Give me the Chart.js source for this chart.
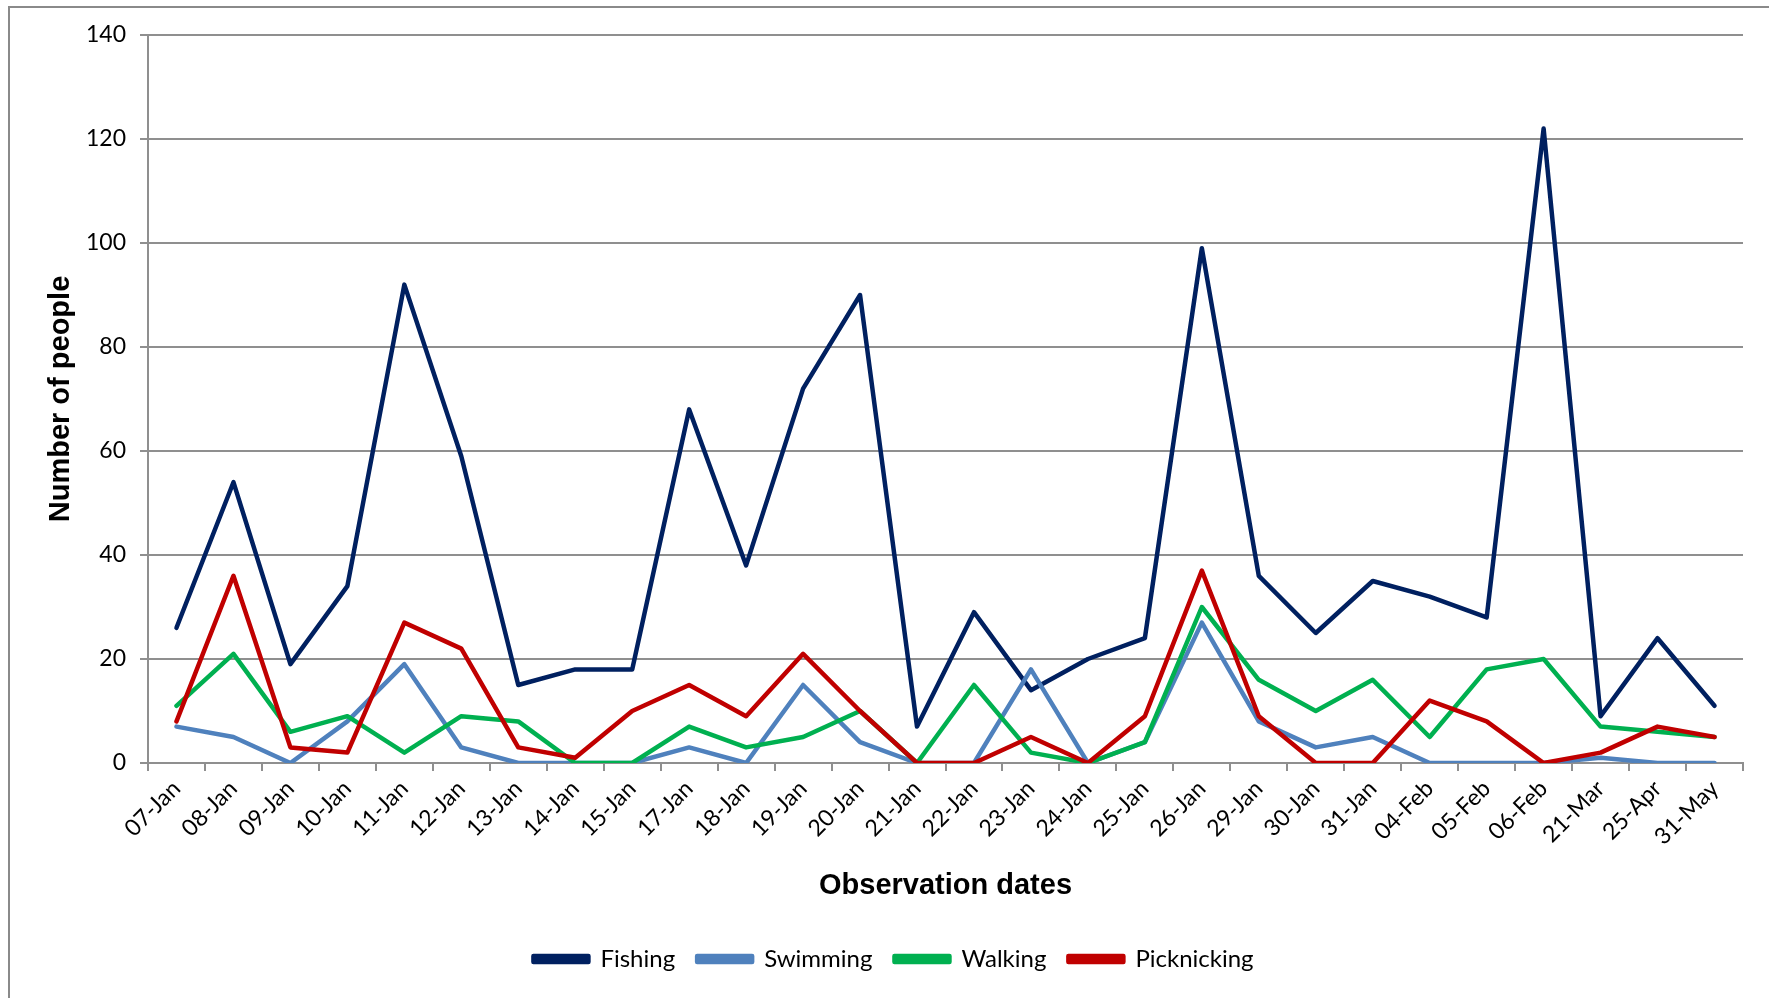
<!DOCTYPE html>
<html>
<head>
<meta charset="utf-8">
<title>Number of people by activity</title>
<script src="https://cdn.jsdelivr.net/npm/chart.js@4.4.1/dist/chart.umd.min.js"></script>
<style>
  html, body { margin: 0; padding: 0; background: #fff; }
  #wrap { position: relative; width: 1769px; height: 998px; }
</style>
</head>
<body>
<div id="wrap"><canvas id="activityChart" width="1769" height="998"></canvas></div>
<script>
const dates = ['07-Jan', '08-Jan', '09-Jan', '10-Jan', '11-Jan', '12-Jan', '13-Jan', '14-Jan',
  '15-Jan', '17-Jan', '18-Jan', '19-Jan', '20-Jan', '21-Jan', '22-Jan', '23-Jan', '24-Jan',
  '25-Jan', '26-Jan', '29-Jan', '30-Jan', '31-Jan', '04-Feb', '05-Feb', '06-Feb', '21-Mar',
  '25-Apr', '31-May'];

const fishing     = [26, 54, 19, 34, 92, 59, 15, 18, 18, 68, 38, 72, 90, 7, 29, 14, 20, 24, 99, 36, 25, 35, 32, 28, 122, 9, 24, 11];
const swimming    = [7, 5, 0, 8, 19, 3, 0, 0, 0, 3, 0, 15, 4, 0, 0, 18, 0, 4, 27, 8, 3, 5, 0, 0, 0, 1, 0, 0];
const walking     = [11, 21, 6, 9, 2, 9, 8, 0, 0, 7, 3, 5, 10, 0, 15, 2, 0, 4, 30, 16, 10, 16, 5, 18, 20, 7, 6, 5];
const picknicking = [8, 36, 3, 2, 27, 22, 3, 1, 10, 15, 9, 21, 10, 0, 0, 5, 0, 9, 37, 9, 0, 0, 12, 8, 0, 2, 7, 5];

const yTicks = [0, 20, 40, 60, 80, 100, 120, 140];

const GRID = '#8f8f8f';
const TICK_FONT = { family: 'Lato', size: 23 };
const TITLE_FONT = { family: 'Liberation Sans', size: 29, weight: 'bold' };

// thin gray frame around the whole chart (left and top edges show)
const framePlugin = {
  id: 'frame',
  beforeDraw(chart) {
    const ctx = chart.ctx;
    ctx.save();
    ctx.strokeStyle = '#8a8a8a';
    ctx.lineWidth = 2;
    ctx.beginPath();
    ctx.moveTo(9, 998);
    ctx.lineTo(9, 7);
    ctx.lineTo(1769, 7);
    ctx.stroke();
    ctx.restore();
  }
};

function series(label, data, color, order) {
  return {
    label: label,
    data: data,
    borderColor: color,
    backgroundColor: color,
    borderWidth: 4.5,
    pointRadius: 0,
    pointHoverRadius: 0,
    tension: 0,
    fill: false,
    borderJoinStyle: 'round',
    borderCapStyle: 'round',
    order: order
  };
}

const ctx = document.getElementById('activityChart').getContext('2d');
new Chart(ctx, {
  type: 'line',
  data: {
    labels: dates,
    datasets: [
      series('Fishing', fishing, '#002060', 4),
      series('Swimming', swimming, '#4f81bd', 3),
      series('Walking', walking, '#00b050', 2),
      series('Picknicking', picknicking, '#c00000', 1)
    ]
  },
  options: {
    responsive: false,
    animation: false,
    events: [],
    layout: { padding: { left: 44, right: 26, top: 35, bottom: 17 } },
    plugins: {
      tooltip: { enabled: false },
      legend: {
        position: 'bottom',
        labels: {
          color: '#000',
          font: { family: 'Lato', size: 24 },
          boxWidth: 55,
          boxHeight: 6,
          padding: 22,
          sort: (a, b) => a.datasetIndex - b.datasetIndex
        }
      }
    },
    scales: {
      x: {
        offset: true,
        afterFit(scale) { scale.height = 162; },
        grid: {
          offset: true,
          drawOnChartArea: false,
          drawTicks: true,
          tickLength: 8,
          color: GRID,
          lineWidth: 2
        },
        border: { display: true, color: GRID, width: 2 },
        ticks: {
          color: '#000',
          font: TICK_FONT,
          minRotation: 45,
          maxRotation: 45,
          autoSkip: false,
          padding: 4
        },
        title: {
          display: true,
          text: 'Observation dates',
          color: '#000',
          font: TITLE_FONT,
          padding: { top: 0, bottom: 22 }
        }
      },
      y: {
        min: 0,
        max: 140,
        afterFit(scale) { scale.width = 104; },
        afterBuildTicks(scale) { scale.ticks = yTicks.map(v => ({ value: v })); },
        grid: {
          color: GRID,
          lineWidth: 2,
          drawTicks: true,
          tickLength: 8
        },
        border: { display: true, color: GRID, width: 2 },
        ticks: {
          color: '#000',
          font: TICK_FONT,
          padding: 14
        },
        title: {
          display: true,
          text: 'Number of people',
          color: '#000',
          font: TITLE_FONT,
          padding: { top: 0, bottom: 0 }
        }
      }
    }
  },
  plugins: [framePlugin]
});
</script>
</body>
</html>
